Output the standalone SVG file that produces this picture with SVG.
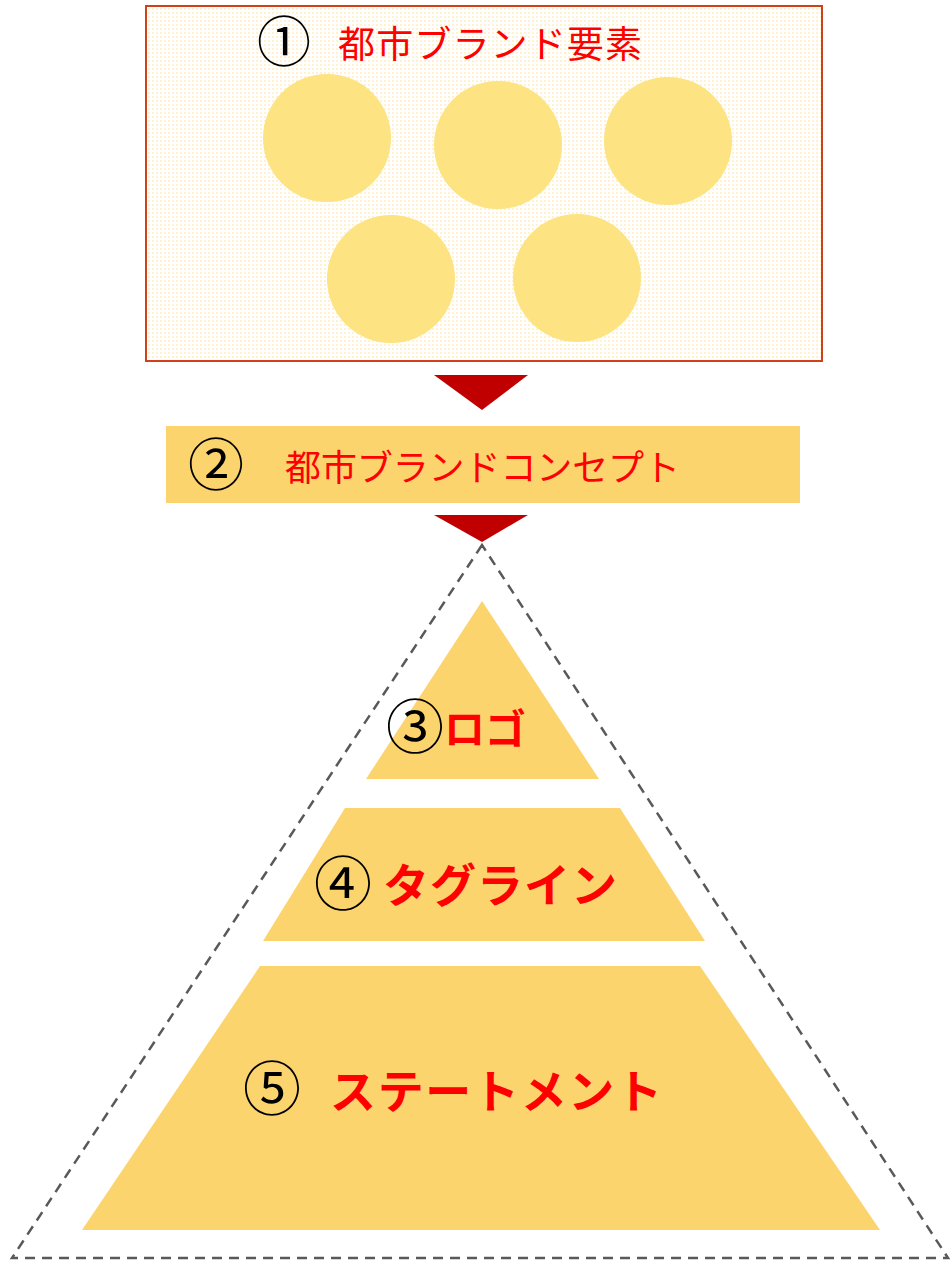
<svg xmlns="http://www.w3.org/2000/svg" width="951" height="1261" viewBox="0 0 951 1261">
<style>
.num{font-family:"Noto Sans CJK JP","Liberation Sans",sans-serif;fill:#000}
.lbl{font-family:"Noto Sans CJK JP",sans-serif;fill:#FF0000}
.b{font-weight:bold}
.circ{fill:#FDE381}
.arr{fill:#C00000}
.chk{fill:#FCD46E}
</style>
<defs>
<pattern id="dots" width="4" height="4" patternUnits="userSpaceOnUse">
<rect width="4" height="4" fill="#FFFFFF"/>
<rect width="2" height="2" fill="#FFF2CC"/>
</pattern>
</defs>
<g id="node1">
<rect x="146" y="6" width="676" height="355" fill="url(#dots)" stroke="#D0401A" stroke-width="2"/>
<text class="num" x="284" y="62" font-size="54" text-anchor="middle">①</text>
<text class="lbl" x="338" y="58" font-size="37" textLength="304">都市ブランド要素</text>
<circle class="circ" cx="327" cy="138" r="64"/>
<circle class="circ" cx="498" cy="145" r="64"/>
<circle class="circ" cx="668" cy="141" r="64"/>
<circle class="circ" cx="391" cy="279" r="64"/>
<circle class="circ" cx="577" cy="278" r="64"/>
</g>
<g id="node2">
<rect x="166" y="426" width="634" height="77" class="chk"/>
<text class="num" x="216" y="485" font-size="56" text-anchor="middle">②</text>
<text class="lbl" x="285" y="481" font-size="36" textLength="395">都市ブランドコンセプト</text>
</g>
<g id="connectors">
<polygon class="arr" points="434,375 528,375 482,410"/>
<polygon class="arr" points="434,515 528,515 482,542"/>
</g>
<g id="pyramid">
<polygon points="482,545 12,1258 948,1258" fill="none" stroke="#595959" stroke-width="2.5" stroke-dasharray="10,7"/>
</g>
<g id="node3">
<polygon class="chk" points="482,601 599,779 366,779"/>
<text class="num" x="415" y="748" font-size="58" text-anchor="middle">③</text>
<text class="lbl b" x="444" y="744" font-size="41" textLength="82">ロゴ</text>
</g>
<g id="node4">
<polygon class="chk" points="345,808 620,808 705,941 263,941"/>
<text class="num" x="343" y="905" font-size="58" text-anchor="middle">④</text>
<text class="lbl b" x="383" y="902" font-size="46" textLength="234">タグライン</text>
</g>
<g id="node5">
<polygon class="chk" points="260,966 700,966 880,1230 82,1230"/>
<text class="num" x="272" y="1110" font-size="58" text-anchor="middle">⑤</text>
<text class="lbl b" x="330" y="1108" font-size="46" textLength="332">ステートメント</text>
</g>
</svg>
